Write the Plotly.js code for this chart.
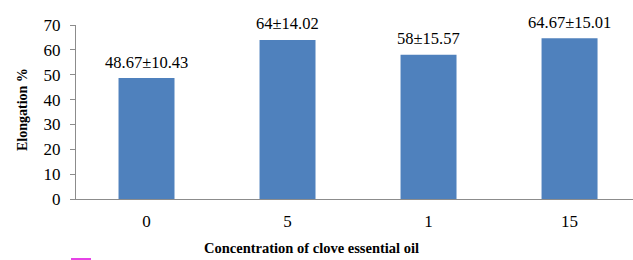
<!DOCTYPE html>
<html>
<head>
<meta charset="utf-8">
<script src="https://cdn.plot.ly/plotly-3.0.1.min.js"></script>
<style>html,body{margin:0;padding:0;background:#fff;}#chart{width:633px;height:260px;}</style>
</head>
<body>
<div id="chart"></div>
<script>
var categories = ["0", "5", "1", "15"];
var means = [48.67, 64, 58, 64.67];
var sds = [10.43, 14.02, 15.57, 15.01];
var meanLabels = ["48.67", "64", "58", "64.67"];
var sdLabels = ["10.43", "14.02", "15.57", "15.01"];
var yTicks = [0, 10, 20, 30, 40, 50, 60, 70];

var L = 76, T = 25, W = 557, H = 174;
function px(x) { return (x - L) / W; }
function py(y) { return (T + H - y) / H; }

var serif = "'Liberation Serif', 'Times New Roman', Times, serif";

var annotations = categories.map(function (c, i) {
  return {
    x: i, y: means[i], xref: "x", yref: "y",
    text: meanLabels[i] + "±" + sdLabels[i],
    showarrow: false, yanchor: "middle", yshift: 16,
    font: {family: serif, size: 16.5, color: "#000"}
  };
});
annotations.push({
  xref: "paper", yref: "paper", x: px(22), y: py(110),
  text: "<b>Elongation %</b>", textangle: -90, showarrow: false,
  xanchor: "center", yanchor: "middle",
  font: {family: serif, size: 14, color: "#000"}
});
annotations.push({
  xref: "paper", yref: "paper", x: px(311), y: py(248),
  text: "<b>Concentration of clove essential oil</b>", showarrow: false,
  xanchor: "center", yanchor: "middle",
  font: {family: serif, size: 14.5, color: "#000"}
});

var trace = {
  type: "bar", x: categories, y: means,
  marker: {color: "#4F81BD", line: {width: 0}},
  hoverinfo: "none"
};

var layout = {
  width: 633, height: 260,
  margin: {l: L, r: 0, t: T, b: 260 - T - H, pad: 0},
  paper_bgcolor: "#fff", plot_bgcolor: "#fff",
  showlegend: false,
  bargap: 0.603,
  font: {family: serif},
  xaxis: {
    type: "category", range: [-0.5, 3.45],
    showgrid: false, zeroline: false,
    showline: true, linecolor: "#8c8c8c", linewidth: 1,
    ticks: "", ticklabelstandoff: 7,
    tickfont: {family: serif, size: 17, color: "#000"},
    fixedrange: true
  },
  yaxis: {
    range: [0, 70], tickvals: yTicks,
    showgrid: false, zeroline: false,
    showline: true, linecolor: "#8c8c8c", linewidth: 1,
    ticks: "outside", ticklen: 5, tickcolor: "#8c8c8c",
    ticklabelstandoff: 6,
    tickfont: {family: serif, size: 17, color: "#000"},
    fixedrange: true
  },
  annotations: annotations,
  shapes: [{
    type: "rect", xref: "paper", yref: "paper",
    x0: px(71), x1: px(91), y0: py(258), y1: py(263),
    fillcolor: "#e642e6", line: {width: 0}
  }]
};

Plotly.newPlot("chart", [trace], layout, {displayModeBar: false, staticPlot: true});
</script>
</body>
</html>
